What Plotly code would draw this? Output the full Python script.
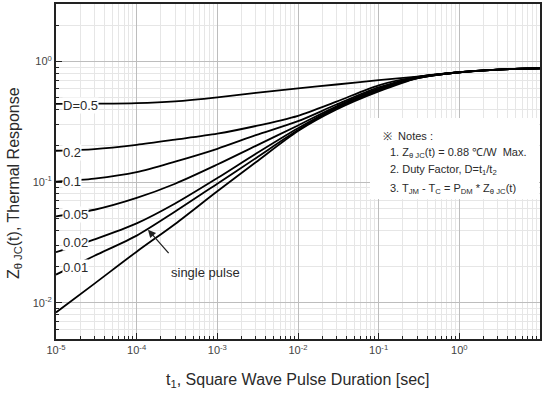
import numpy as np
import plotly.graph_objects as go

# pulse duration t1 [sec]
t = [1e-5, 3e-5, 1e-4, 3e-4, 1e-3, 3e-3, 1e-2, 3e-2, 1e-1, 3e-1, 1, 3, 10]

# thermal response Z_thetaJC(t)
z_d05 = [0.445, 0.447, 0.452, 0.468, 0.505, 0.550, 0.600, 0.645, 0.700, 0.750, 0.815, 0.857, 0.880]
z_d02 = [0.182, 0.188, 0.204, 0.225, 0.252, 0.292, 0.355, 0.465, 0.635, 0.745, 0.815, 0.857, 0.880]
z_d01 = [0.101, 0.107, 0.121, 0.148, 0.189, 0.245, 0.320, 0.440, 0.610, 0.740, 0.815, 0.857, 0.880]
z_d005 = [0.052, 0.059, 0.074, 0.097, 0.140, 0.200, 0.295, 0.425, 0.595, 0.735, 0.815, 0.857, 0.880]
z_d002 = [0.0262, 0.0335, 0.0455, 0.0665, 0.108, 0.172, 0.280, 0.415, 0.585, 0.730, 0.815, 0.857, 0.880]
z_d001 = [0.0171, 0.0245, 0.036, 0.057, 0.097, 0.158, 0.270, 0.410, 0.580, 0.728, 0.815, 0.857, 0.880]
z_single = [0.0083, 0.0144, 0.0265, 0.045, 0.084, 0.146, 0.265, 0.400, 0.565, 0.725, 0.815, 0.857, 0.880]

series = [z_d05, z_d02, z_d01, z_d005, z_d002, z_d001, z_single]
curve_labels = ["D=0.5", "0.2", "0.1", "0.05", "0.02", "0.01"]
label_y_px = [105, 152, 182, 215, 242, 267]

x_tick_vals = [1e-5, 1e-4, 1e-3, 1e-2, 1e-1, 1, 10]
x_tick_text = ["10<sup>-5</sup>", "10<sup>-4</sup>", "10<sup>-3</sup>", "10<sup>-2</sup>",
               "10<sup>-1</sup>", "10<sup>0</sup>", "10<sup>1</sup>"]
y_tick_vals = [1e-2, 1e-1, 1]
y_tick_text = ["10<sup>-2</sup>", "10<sup>-1</sup>", "10<sup>0</sup>"]

W, H = 548, 396
L, R, T, B = 56, 8, 4, 57
pw, ph = W - L - R, H - T - B

fig = go.Figure()
for s in series:
    fig.add_trace(go.Scatter(x=t, y=s, mode="lines",
                             line=dict(color="black", width=1.8, shape="spline", smoothing=0.8),
                             hoverinfo="skip", showlegend=False))

def px2paper(xp, yp):
    return (xp - L) / pw, (H - B - yp) / ph

FONT = "Liberation Sans, Arial"
annotations = []
for lab, yp in zip(curve_labels, label_y_px):
    xpp, ypp = px2paper(62, yp)
    annotations.append(dict(x=xpp, y=ypp, xref="paper", yref="paper", text=lab,
                            showarrow=False, xanchor="left", yanchor="middle",
                            bgcolor="white", borderpad=0,
                            font=dict(family=FONT, size=13, color="#2a2a2a")))

# single pulse label + arrow
xpp, ypp = px2paper(205, 272)
annotations.append(dict(x=xpp, y=ypp, xref="paper", yref="paper", text="single pulse",
                        showarrow=False, xanchor="center", yanchor="middle",
                        font=dict(family=FONT, size=13, color="#2a2a2a")))
annotations.append(dict(x=-3.86, y=-1.394, xref="x", yref="y", text="", showarrow=True,
                        ax=22, ay=25, arrowhead=2, arrowsize=1.2, arrowwidth=1.3,
                        arrowcolor="#222"))

# notes box
notes = ["※  Notes :",
         "1. Z<sub>θ JC</sub>(t) = 0.88 ℃/W  Max.",
         "2. Duty Factor, D=t<sub>1</sub>/t<sub>2</sub>",
         "3. T<sub>JM</sub> - T<sub>C</sub> = P<sub>DM</sub> * Z<sub>θ JC</sub>(t)"]
notes_xy = [(381, 136), (388, 153), (388, 170), (388, 189)]
for txt, (xp, yp) in zip(notes, notes_xy):
    xpp, ypp = px2paper(xp, yp)
    annotations.append(dict(x=xpp, y=ypp, xref="paper", yref="paper", text=txt,
                            showarrow=False, xanchor="left", yanchor="middle",
                            font=dict(family=FONT, size=11, color="#2a2a2a")))

bx0, by0 = px2paper(370, 199)
bx1, by1 = px2paper(539, 118)
shapes = [dict(type="rect", xref="paper", yref="paper", x0=bx0, y0=by0, x1=bx1, y1=by1,
               fillcolor="white", line=dict(width=0), layer="above")]

# axis titles
xpp, ypp = px2paper(298, 380)
annotations.append(dict(x=xpp, y=ypp, xref="paper", yref="paper",
                        text="t<sub>1</sub>, Square Wave Pulse Duration [sec]",
                        showarrow=False, xanchor="center", yanchor="middle",
                        font=dict(family=FONT, size=16, color="#2a2a2a")))
xpp, ypp = px2paper(14, 183)
annotations.append(dict(x=xpp, y=ypp, xref="paper", yref="paper",
                        text="Z<sub>θ JC</sub>(t), Thermal Response", textangle=-90,
                        showarrow=False, xanchor="center", yanchor="middle",
                        font=dict(family=FONT, size=16, color="#2a2a2a")))

axis_common = dict(type="log", tickmode="array", showline=True, automargin=False,
                   linecolor="#222", linewidth=2, mirror=True, ticks="inside", ticklen=6,
                   tickcolor="#222", showgrid=True, gridcolor="#bdbdbd", gridwidth=1,
                   tickfont=dict(family=FONT, size=11, color="#444"),
                   zeroline=False,
                   minor=dict(dtick="D1", ticks="inside", ticklen=3, tickcolor="#222",
                              showgrid=True, gridcolor="#e6e6e6", gridwidth=1))

fig.update_layout(
    width=W, height=H, margin=dict(l=L, r=R, t=T, b=B, autoexpand=False),
    paper_bgcolor="white", plot_bgcolor="white",
    xaxis=dict(range=[-5, 1], tickvals=x_tick_vals, ticktext=x_tick_text, **axis_common),
    yaxis=dict(range=[np.log10(0.005), np.log10(3)], tickvals=y_tick_vals,
               ticktext=y_tick_text, **axis_common),
    annotations=annotations, shapes=shapes,
)
fig.write_html("out.html", config={"displayModeBar": False},
               post_script="document.body.style.margin='0';document.body.style.overflow='hidden';")
